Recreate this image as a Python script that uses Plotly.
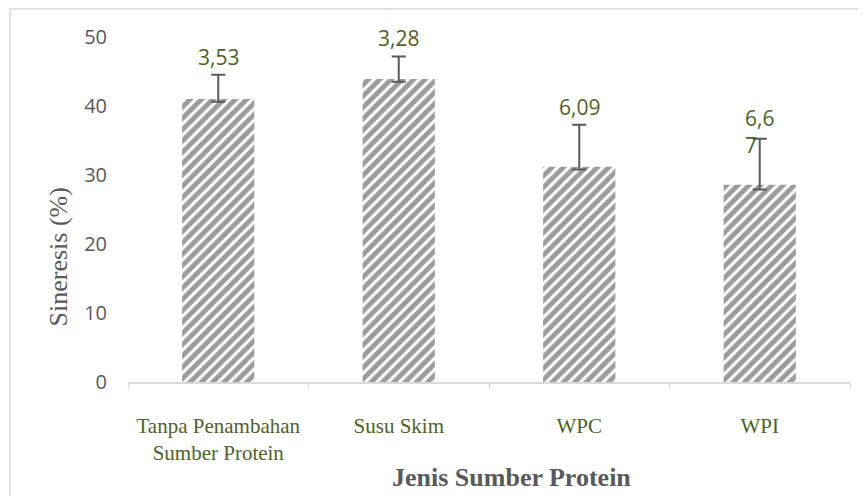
import plotly.graph_objects as go

categories = ["Tanpa Penambahan<br>Sumber Protein", "Susu Skim", "WPC", "WPI"]
sineresis = [41.0, 43.9, 31.2, 28.6]
err_plus = [3.53, 3.28, 6.09, 6.67]
err_minus = [0.4, 0.4, 0.4, 0.7]
err_labels = ["3,53", "3,28", "6,09", "6,6<br>7"]

W, H = 866, 496
OFF = 8  # page body margin
L, R, T, B = 120, 24, 29, 122
pw, ph = W - L - R, H - T - B

def px(x):  # screen x -> paper x
    return (x - OFF - L) / pw

def py(y):  # screen y -> paper y
    return (H - B - (y - OFF)) / ph

fig = go.Figure()
fig.add_trace(go.Bar(
    x=categories, y=sineresis, width=0.4,
    marker=dict(color="white", line=dict(width=0),
                pattern=dict(shape="/", fgcolor="#3a3a3a", bgcolor="white",
                             size=8, solidity=0.62, fillmode="overlay")),
    error_y=dict(type="data", symmetric=False, array=err_plus, arrayminus=err_minus,
                 color="#595959", thickness=2, width=7),
    showlegend=False,
))

for c, v, e, t in zip(categories, sineresis, err_plus, err_labels):
    wrapped = "<br>" in t
    fig.add_annotation(x=c, y=v + e, text=t, showarrow=False, yanchor="bottom",
                       yshift=-22 if wrapped else 2, align="left" if wrapped else "center",
                       font=dict(family="Open Sans, Liberation Sans, sans-serif", size=21, color="#4f6228"))

fig.add_annotation(xref="paper", yref="paper", x=px(511), y=py(494), text="<b>Jenis Sumber Protein</b>",
                   showarrow=False, font=dict(family="Liberation Serif, serif", size=26, color="#595959"))
fig.add_annotation(xref="paper", yref="paper", x=px(42), y=py(257), text="Sineresis (%)", textangle=-90,
                   showarrow=False, font=dict(family="Liberation Serif, serif", size=26, color="#595959"))

fig.add_shape(type="line", xref="paper", yref="paper", x0=px(10), x1=px(880), y0=py(9), y1=py(9),
              line=dict(color="#d9d9d9", width=1.5))
fig.add_shape(type="line", xref="paper", yref="paper", x0=px(10), x1=px(10), y0=py(9), y1=py(510),
              line=dict(color="#d9d9d9", width=1.5))

fig.update_layout(
    width=W, height=H, margin=dict(l=L, r=R, t=T, b=B, autoexpand=False),
    plot_bgcolor="white", paper_bgcolor="white", bargap=0.6,
)
fig.update_xaxes(showline=True, linecolor="#d9d9d9", linewidth=1.5, ticks="outside", tickcolor="#d9d9d9",
                 ticklen=5, tickson="boundaries", showgrid=False, ticklabelstandoff=24, automargin=False,
                 tickfont=dict(family="Liberation Serif, serif", size=21, color="#4f6228"))
fig.update_yaxes(range=[0, 50], dtick=10, showgrid=False, showline=False, zeroline=False,
                 ticklabelstandoff=20, automargin=False,
                 tickfont=dict(family="Open Sans, Liberation Sans, sans-serif", size=20, color="#595959"))

fig.write_html("out.html")
